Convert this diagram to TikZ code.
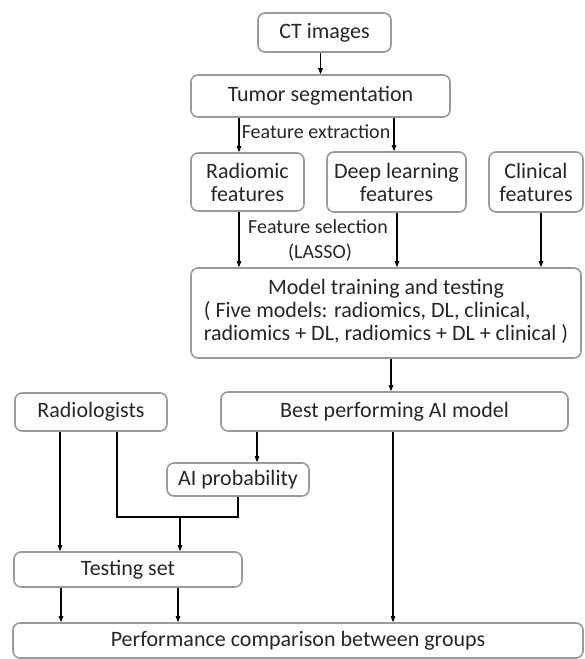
\documentclass[tikz,border=0pt]{standalone}
\usepackage{fontspec}
\setmainfont{Carlito}
\usetikzlibrary{arrows.meta}
\definecolor{boxline}{HTML}{9A9A9A}
\definecolor{txt}{HTML}{262626}
\tikzset{
  box/.style={draw=boxline, line width=1.6pt, rounded corners=7pt, inner sep=0pt,
    text=txt, font=\fontsize{22}{23}\selectfont, align=center},
  arr/.style={draw=black, line width=1.1pt, -{Triangle[length=6pt,width=4.5pt]}},
  ln/.style={draw=black, line width=1.1pt},
  lbl/.style={text=txt, font=\fontsize{20}{21}\selectfont, inner sep=0pt}
}
\begin{document}
\begin{tikzpicture}[x=1pt,y=-1pt]
\useasboundingbox (0,0) rectangle (584,659);
\node[box, minimum width=133pt, minimum height=39pt] (ct) at (324.5,32.5) {CT images};
\node[box, minimum width=259pt, minimum height=42pt] (tum) at (320.5,96) {Tumor segmentation};
\node[box, minimum width=113pt, minimum height=58pt] (rad) at (247.5,182) {Radiomic\\features};
\node[box, minimum width=139pt, minimum height=60pt] (deep) at (396.5,182) {Deep learning\\features};
\node[box, minimum width=94pt, minimum height=60pt] (clin) at (536,182) {Clinical\\features};
\node[box, minimum width=390pt, minimum height=90pt] (model) at (386,313)
  {\begin{tabular}{@{}l@{}}\multicolumn{1}{@{}c@{}}{Model training and testing}\\
   ( Five models: radiomics, DL, clinical,\\
   radiomics + DL, radiomics + DL + clinical )\end{tabular}};
\node[box, minimum width=152pt, minimum height=38pt] (rlg) at (91,412) {Radiologists};
\node[box, minimum width=347pt, minimum height=39pt] (best) at (394.5,411.5) {Best performing AI model};
\node[box, minimum width=142pt, minimum height=33pt] (aip) at (238,479.5) {AI probability};
\node[box, minimum width=228pt, minimum height=35pt] (test) at (128,569.5) {Testing set};
\node[box, minimum width=570pt, minimum height=35pt] (perf) at (298,640.5) {Performance comparison between groups};

\node[lbl] (fe) at (316,132) {Feature extraction};
\node[lbl] (fs) at (318,227) {Feature selection};
\node[lbl] (lasso) at (320,253) {(LASSO)};

\coordinate (j) at (117,517);
\draw[arr] (ct.south -| tum.north) -- (tum.north);
\draw[arr] (tum.south -| 239,0) -- (rad.north -| 239,0);
\draw[arr] (tum.south -| 394,0) -- (deep.north -| 394,0);
\draw[arr] (rad.south -| 239,0) -- (model.north -| 239,0);
\draw[arr] (deep.south -| 397,0) -- (model.north -| 397,0);
\draw[arr] (clin.south -| 541,0) -- (model.north -| 541,0);
\draw[arr] (model.south -| 391,0) -- (best.north -| 391,0);
\draw[arr] (rlg.south -| 60,0) -- (test.north -| 60,0);
\draw[ln] (rlg.south -| j) -- (j) -- (j -| aip.south) -- (aip.south);
\draw[arr] (j -| 180,0) -- (test.north -| 180,0);
\draw[arr] (best.south -| 257,0) -- (aip.north -| 257,0);
\draw[arr] (best.south -| 393,0) -- (perf.north -| 393,0);
\draw[arr] (test.south -| 61,0) -- (perf.north -| 61,0);
\draw[arr] (test.south -| 178,0) -- (perf.north -| 178,0);
\end{tikzpicture}
\end{document}
